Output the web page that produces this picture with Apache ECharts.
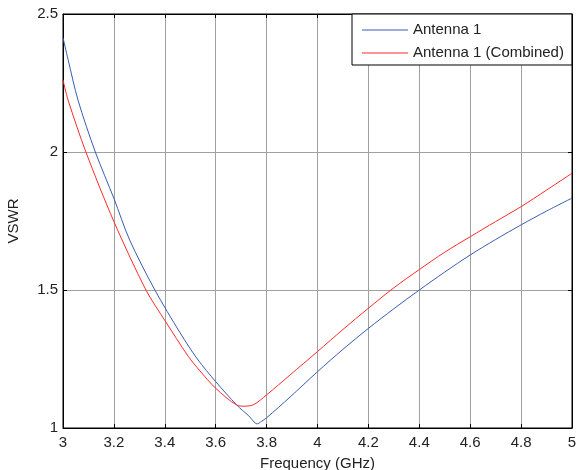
<!DOCTYPE html>
<html>
<head>
<meta charset="utf-8">
<script src="https://cdn.jsdelivr.net/npm/echarts@6/dist/echarts.min.js"></script>
<style>html,body{margin:0;padding:0;background:#fff;}#c{width:579px;height:470px;}</style>
</head>
<body>
<div id="c"></div>
<script>
const antenna1Freq = [3.0, 3.02, 3.059, 3.127, 3.2, 3.262, 3.361, 3.46, 3.528, 3.6, 3.683, 3.73, 3.763, 3.78, 3.8, 3.892, 4.0, 4.1, 4.2, 4.3, 4.4, 4.5, 4.6, 4.7, 4.8, 4.9, 5.0];
const antenna1Vswr = [2.414, 2.335, 2.188, 2.0, 1.832, 1.681, 1.5, 1.345, 1.25, 1.168, 1.083, 1.044, 1.015, 1.024, 1.037, 1.112, 1.204, 1.285, 1.361, 1.432, 1.5, 1.565, 1.627, 1.683, 1.736, 1.786, 1.833];
const combinedFreq = [3.0, 3.02, 3.09, 3.2, 3.326, 3.4, 3.492, 3.538, 3.6, 3.683, 3.715, 3.75, 3.8, 3.892, 4.0, 4.1, 4.2, 4.3, 4.4, 4.5, 4.6, 4.7, 4.8, 4.9, 5.0];
const combinedVswr = [2.261, 2.188, 2.0, 1.748, 1.5, 1.39, 1.26, 1.207, 1.144, 1.083, 1.079, 1.085, 1.12, 1.192, 1.277, 1.357, 1.434, 1.508, 1.574, 1.637, 1.693, 1.748, 1.802, 1.862, 1.923];
const seriesNames = ['Antenna 1', 'Antenna 1 (Combined)'];

const zip = (a, b) => a.map((v, i) => [v, b[i]]);
const font = 'Liberation Sans, Arial, sans-serif';
const chart = echarts.init(document.getElementById('c'), null, {renderer: 'canvas'});
chart.setOption({
  animation: false,
  backgroundColor: '#fff',
  grid: {left: 63, right: 7, top: 14, bottom: 42, show: true, borderColor: '#000', borderWidth: 1, containLabel: false, outerBoundsMode: 'none'},
  legend: {
    orient: 'vertical', left: 352, top: 14,
    backgroundColor: '#fff', borderColor: '#000', borderWidth: 1,
    padding: [8, 8, 4, 10], itemWidth: 46, itemHeight: 1, itemGap: 7,
    icon: 'rect',
    textStyle: {fontFamily: font, fontSize: 15, lineHeight: 16, color: '#222'},
    data: seriesNames
  },
  xAxis: [{
    type: 'value', min: 3, max: 5, interval: 0.2,
    name: 'Frequency (GHz)', nameLocation: 'middle', nameGap: 28,
    nameTextStyle: {fontFamily: font, fontSize: 15, color: '#222'},
    axisLine: {show: true, onZero: false, lineStyle: {color: '#000', width: 1}},
    axisTick: {inside: true, length: 4, lineStyle: {color: '#000'}},
    axisLabel: {fontFamily: font, fontSize: 15, color: '#222', margin: 7, formatter: v => String(+v.toFixed(1))},
    splitLine: {show: true, lineStyle: {color: '#a0a0a0', width: 1}}
  }, {
    type: 'value', min: 3, max: 5, interval: 0.2, position: 'top',
    axisLine: {show: true, lineStyle: {color: '#000'}},
    axisTick: {inside: true, length: 4, lineStyle: {color: '#000'}},
    axisLabel: {show: false}, splitLine: {show: false}
  }],
  yAxis: [{
    type: 'value', min: 1, max: 2.5, interval: 0.5,
    name: 'VSWR', nameLocation: 'middle', nameGap: 42,
    nameTextStyle: {fontFamily: font, fontSize: 15, color: '#222'},
    axisLine: {show: true, onZero: false, lineStyle: {color: '#000', width: 1}},
    axisTick: {inside: true, length: 4, lineStyle: {color: '#000'}},
    axisLabel: {fontFamily: font, fontSize: 15, color: '#222', margin: 5},
    splitLine: {show: true, lineStyle: {color: '#a0a0a0', width: 1}}
  }, {
    type: 'value', min: 1, max: 2.5, interval: 0.5, position: 'right',
    axisLine: {show: true, lineStyle: {color: '#000'}},
    axisTick: {inside: true, length: 4, lineStyle: {color: '#000'}},
    axisLabel: {show: false}, splitLine: {show: false}
  }],
  series: [{
    name: seriesNames[0], type: 'line', data: zip(antenna1Freq, antenna1Vswr),
    symbol: 'none', smooth: 0.3, lineStyle: {color: '#3a5cb0', width: 1}, itemStyle: {color: '#3a5cb0'}
  }, {
    name: seriesNames[1], type: 'line', data: zip(combinedFreq, combinedVswr),
    symbol: 'none', smooth: 0.3, lineStyle: {color: '#ff2a2a', width: 1}, itemStyle: {color: '#ff2a2a'}
  }]
});
</script>
</body>
</html>
